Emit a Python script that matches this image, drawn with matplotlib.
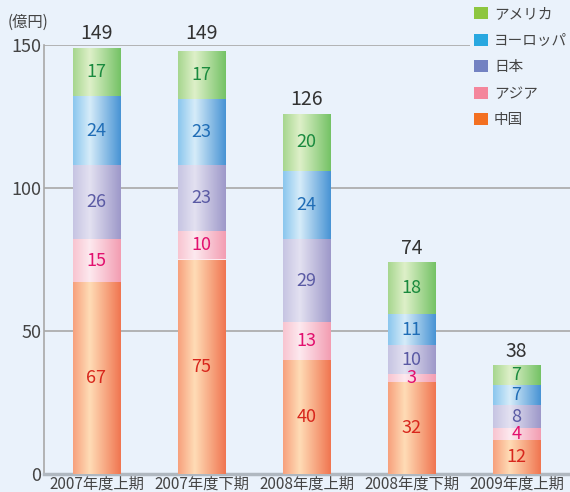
import numpy as np
import matplotlib
matplotlib.use("Agg")
import matplotlib.pyplot as plt
from matplotlib.colors import LinearSegmentedColormap
from matplotlib.patches import Patch

plt.rcParams["font.family"] = ["Noto Sans CJK JP", "DejaVu Sans"]

# data
periods = ["2007年度上期", "2007年度下期", "2008年度上期", "2008年度下期", "2009年度上期"]
series = ["中国", "アジア", "日本", "ヨーロッパ", "アメリカ"]
china = [67, 75, 40, 32, 12]
asia = [15, 10, 13, 3, 4]
japan = [26, 23, 29, 10, 8]
europe = [24, 23, 24, 11, 7]
america = [17, 17, 20, 18, 7]
totals = [149, 149, 126, 74, 38]
values = [china, asia, japan, europe, america]

# gradients (left, light, right), legend colour, label colour
grads = [
    ("#f7a07c", "#ffdcb6", "#f07550"),
    ("#f8c4d0", "#fde9ef", "#f39db2"),
    ("#c6c4e2", "#e3e1f1", "#9d98c9"),
    ("#8ac6ee", "#d6ecf9", "#4793d4"),
    ("#a6d68e", "#def0c9", "#74c265"),
]
legend_colors = ["#f37021", "#f4869c", "#7382c2", "#29a8e0", "#8dc63f"]
label_colors = ["#d8261c", "#e2106e", "#5a5aa4", "#1f6db6", "#1a8a3e"]

bg = "#eaf2fb"
fig = plt.figure(figsize=(5.7, 4.92), dpi=100, facecolor=bg)
ax = fig.add_axes([44 / 570, 18 / 492, 526 / 570, 429 / 492])
ax.set_facecolor(bg)

x = np.arange(len(periods))
width = 0.448
bottom = np.zeros(len(periods))
for k, vals in enumerate(values):
    cmap = LinearSegmentedColormap.from_list(
        "g%d" % k, [(0, grads[k][0]), (0.35, grads[k][1]), (1, grads[k][2])]
    )
    bars = ax.bar(x, vals, width, bottom=bottom, color=grads[k][1], zorder=2)
    grad = np.linspace(0, 1, 256).reshape(1, -1)
    for b in bars:
        x0, y0 = b.get_x(), b.get_y()
        w, h = b.get_width(), b.get_height()
        im = ax.imshow(grad, cmap=cmap, aspect="auto", extent=[x0, x0 + w, y0, y0 + h],
                       zorder=3, interpolation="bilinear")
        im.set_clip_path(b)
    for i, v in enumerate(vals):
        ax.text(x[i], bottom[i] + v / 2, str(v), ha="center", va="center",
                fontsize=13, color=label_colors[k], zorder=4)
    bottom += np.array(vals)

for i, t in enumerate(totals):
    ax.text(x[i], t + 1.2, str(t), ha="center", va="bottom", fontsize=14, color="#333333")

ax.set_xlim(-0.5, 4.51)
ax.set_ylim(0, 150)
ax.set_yticks([0, 50, 100, 150])
ax.set_xticks(x)
ax.set_xticklabels(periods)
ax.tick_params(axis="y", length=0, labelsize=13, colors="#444444", pad=2)
ax.tick_params(axis="x", length=0, labelsize=11, colors="#444444", pad=1)
ax.grid(axis="y", color="#a8a8a8", linewidth=1.2, zorder=1)
ax.set_axisbelow(True)
for s in ["top", "right"]:
    ax.spines[s].set_visible(False)
ax.spines["left"].set_color("#a8a8a8")
ax.spines["left"].set_linewidth(1.2)
ax.spines["bottom"].set_color("#b0b8c0")
ax.spines["bottom"].set_linewidth(2.5)

fig.text(8 / 570, 1 - 22 / 492, "(億円)", fontsize=11, color="#444444", va="center")

handles = [Patch(facecolor=legend_colors[k], edgecolor="none") for k in range(5)][::-1]
leg = fig.legend(handles, series[::-1], loc="upper left", bbox_to_anchor=(470 / 570, 1 - 3 / 492),
                 frameon=True, fontsize=10.5, handlelength=0.9, handleheight=0.9,
                 handletextpad=0.45, labelspacing=0.85, borderpad=0.3, borderaxespad=0)
leg.get_frame().set_facecolor(bg)
leg.get_frame().set_edgecolor("none")
leg.get_frame().set_alpha(1)
for t in leg.get_texts():
    t.set_color("#444444")

fig.savefig("out.png", dpi=100, facecolor=bg)
